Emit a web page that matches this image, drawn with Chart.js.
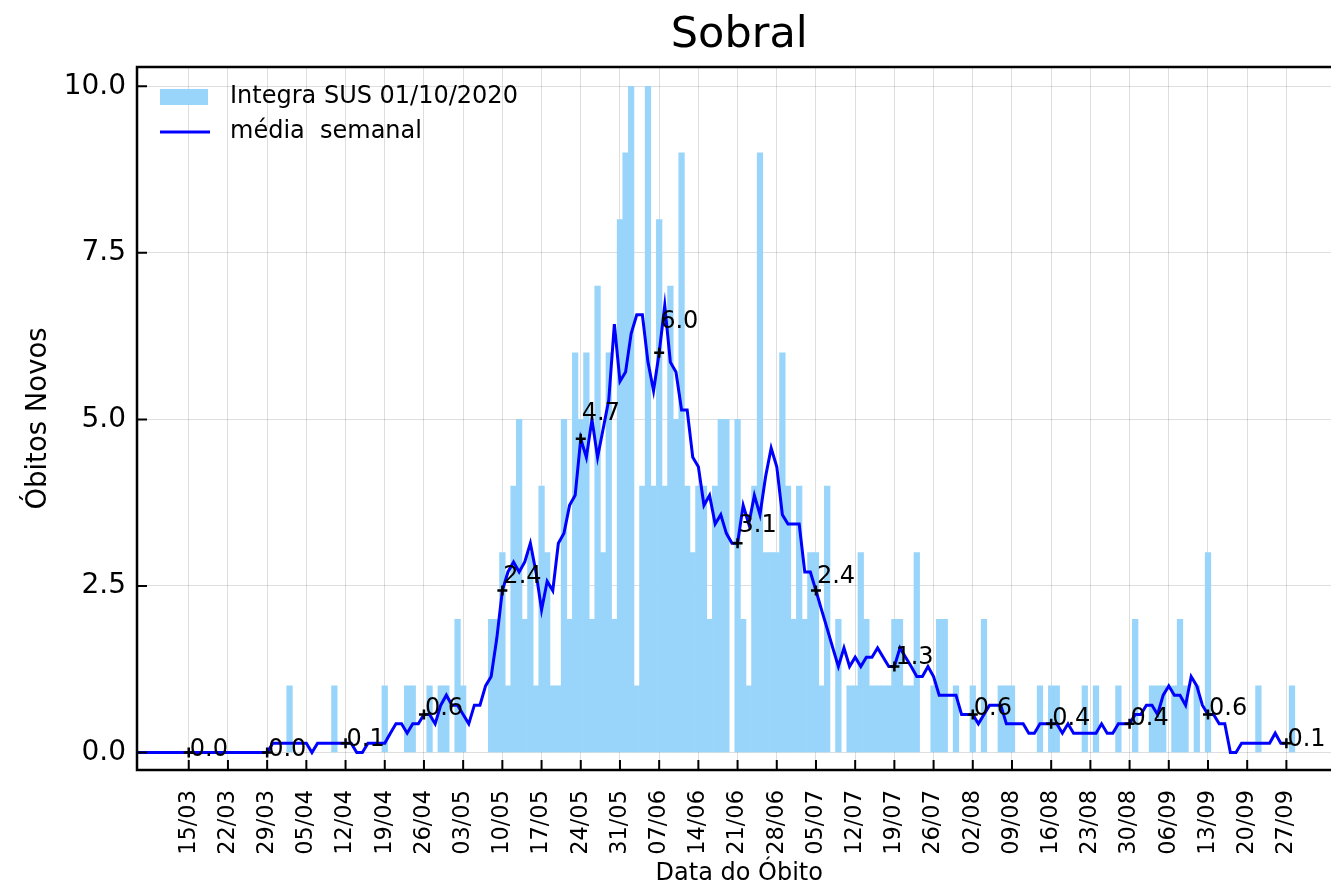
<!DOCTYPE html>
<html>
<head>
<meta charset="utf-8">
<script src="https://cdn.jsdelivr.net/npm/chart.js@4.4.1/dist/chart.umd.min.js"></script>
<style>
  html, body { margin: 0; padding: 0; background: #fff; overflow: hidden; }
  #wrap { width: 1349px; height: 888px; }
</style>
</head>
<body>
<!-- the axes box runs a little past the right edge of the 1331px picture -->
<div id="wrap"><canvas id="sobralChart" width="1349" height="888"></canvas></div>
<script>
// day index 0 = 05/03/2020
const xTickDays = [10, 17, 24, 31, 38, 45, 52, 59, 66, 73, 80, 87, 94, 101, 108,
  115, 122, 129, 136, 143, 150, 157, 164, 171, 178, 185, 192, 199, 206];
const xTickLabels = ['15/03', '22/03', '29/03', '05/04', '12/04', '19/04', '26/04', '03/05',
  '10/05', '17/05', '24/05', '31/05', '07/06', '14/06', '21/06', '28/06', '05/07', '12/07',
  '19/07', '26/07', '02/08', '09/08', '16/08', '23/08', '30/08', '06/09', '13/09', '20/09', '27/09'];
const yTickValues = [0, 2.5, 5, 7.5, 10];
const yTickLabels = ['0.0', '2.5', '5.0', '7.5', '10.0'];

// daily deaths, 05/03 .. 30/09
const dailyDeaths = [
  0, 0, 0, 0, 0, 0, 0, 0, 0, 0,
  0, 0, 0, 0, 0, 0, 0, 0, 0, 0,
  0, 0, 0, 0, 0, 0, 0, 0, 1, 0,
  0, 0, 0, 0, 0, 0, 1, 0, 0, 0,
  0, 0, 0, 0, 0, 1, 0, 0, 0, 1,
  1, 0, 0, 1, 0, 1, 1, 0, 2, 1,
  0, 0, 0, 0, 2, 2, 3, 1, 4, 5,
  2, 3, 1, 4, 3, 1, 1, 5, 2, 6,
  5, 6, 2, 7, 3, 6, 2, 8, 9, 10,
  1, 4, 10, 4, 8, 4, 7, 5, 9, 4,
  3, 4, 4, 2, 4, 5, 5, 0, 5, 2,
  1, 4, 9, 3, 3, 3, 6, 4, 2, 4,
  2, 3, 3, 1, 4, 0, 2, 0, 1, 1,
  3, 2, 1, 1, 1, 1, 2, 2, 1, 1,
  3, 0, 0, 1, 2, 2, 0, 1, 0, 0,
  1, 0, 2, 0, 0, 1, 1, 1, 0, 0,
  0, 0, 1, 0, 1, 1, 0, 0, 0, 0,
  1, 0, 1, 0, 0, 0, 1, 0, 0, 2,
  0, 0, 1, 1, 1, 0, 1, 2, 1, 0,
  1, 0, 3, 0, 0, 0, 0, 0, 0, 0,
  0, 1, 0, 0, 0, 0, 0, 1, 0, 0
];

// weekly average (média semanal), 05/03 .. 27/09
const weeklyMean = [
  0, 0, 0, 0, 0, 0, 0, 0, 0, 0,
  0, 0, 0, 0, 0, 0, 0, 0, 0, 0,
  0, 0, 0, 0, 0, 0.14, 0.14, 0.14, 0.14, 0.14,
  0.14, 0.14, 0, 0.14, 0.14, 0.14, 0.14, 0.14, 0.14, 0.14,
  0, 0, 0.14, 0.14, 0.14, 0.14, 0.29, 0.43, 0.43, 0.29,
  0.43, 0.43, 0.57, 0.57, 0.43, 0.71, 0.86, 0.71, 0.71, 0.57,
  0.43, 0.71, 0.71, 1.0, 1.14, 1.71, 2.43, 2.71, 2.86, 2.71,
  2.86, 3.14, 2.71, 2.14, 2.57, 2.43, 3.14, 3.29, 3.71, 3.86,
  4.71, 4.43, 5.0, 4.43, 4.86, 5.29, 6.43, 5.57, 5.71, 6.29,
  6.57, 6.57, 5.86, 5.43, 6.0, 6.71, 5.86, 5.71, 5.14, 5.14,
  4.43, 4.29, 3.71, 3.86, 3.43, 3.57, 3.29, 3.14, 3.14, 3.71,
  3.43, 3.86, 3.57, 4.14, 4.57, 4.29, 3.57, 3.43, 3.43, 3.43,
  2.71, 2.71, 2.43, 2.14, 1.86, 1.57, 1.29, 1.57, 1.29, 1.43,
  1.29, 1.43, 1.43, 1.57, 1.43, 1.29, 1.29, 1.57, 1.43, 1.29,
  1.14, 1.14, 1.29, 1.14, 0.86, 0.86, 0.86, 0.86, 0.57, 0.57,
  0.57, 0.43, 0.57, 0.71, 0.71, 0.71, 0.43, 0.43, 0.43, 0.43,
  0.29, 0.29, 0.43, 0.43, 0.43, 0.43, 0.29, 0.43, 0.29, 0.29,
  0.29, 0.29, 0.29, 0.43, 0.29, 0.29, 0.43, 0.43, 0.43, 0.57,
  0.57, 0.71, 0.71, 0.57, 0.86, 1.0, 0.86, 0.86, 0.71, 1.14,
  1.0, 0.71, 0.57, 0.57, 0.43, 0.43, 0, 0, 0.14, 0.14,
  0.14, 0.14, 0.14, 0.14, 0.29, 0.14, 0.14
];

// marked points every two weeks
const markerDays = [10, 24, 38, 52, 66, 80, 94, 108, 122, 136, 150, 164, 178, 192, 206];
const markerValues = [0, 0, 0.14, 0.57, 2.43, 4.71, 6.0, 3.14, 2.43, 1.29, 0.57, 0.43, 0.43, 0.57, 0.14];
const markerLabels = ['0.0', '0.0', '0.1', '0.6', '2.4', '4.7', '6.0', '3.1', '2.4', '1.3', '0.6', '0.4', '0.4', '0.6', '0.1'];

const barColor = '#99d5fa';
const lineColor = '#0000ff';

// frame, inward ticks, marker values and legend
const frameAndNotes = {
  id: 'frameAndNotes',
  afterDraw(chart) {
    const { ctx, chartArea: a, scales: { x, y } } = chart;
    ctx.save();
    ctx.strokeStyle = '#000';
    ctx.lineWidth = 2;
    ctx.beginPath();
    x.ticks.forEach(t => {
      const px = x.getPixelForValue(t.value);
      ctx.moveTo(px, a.bottom);
      ctx.lineTo(px, a.bottom - 10);
    });
    y.ticks.forEach(t => {
      const py = y.getPixelForValue(t.value);
      ctx.moveTo(a.left, py);
      ctx.lineTo(a.left + 10, py);
    });
    ctx.stroke();
    ctx.lineWidth = 2.5;
    ctx.strokeRect(a.left, a.top, a.right - a.left, a.bottom - a.top);

    const meta = chart.getDatasetMeta(0);
    ctx.font = '24px "DejaVu Sans"';
    ctx.fillStyle = '#000';
    ctx.textAlign = 'left';
    ctx.textBaseline = 'middle';
    markerLabels.forEach((txt, i) => {
      const pt = meta.data[i];
      ctx.fillText(txt, pt.x + 1, y.getPixelForValue(markerValues[i] * 1.07) - 3);
    });

    // legend
    const lx = a.left + 23;
    ctx.font = '24px "DejaVu Sans"';
    ctx.fillStyle = barColor;
    ctx.fillRect(lx, a.top + 22, 48, 16);
    ctx.fillStyle = '#000';
    ctx.fillText(chart.data.datasets[2].label, lx + 70, a.top + 30);
    ctx.strokeStyle = lineColor;
    ctx.lineWidth = 3;
    ctx.beginPath();
    ctx.moveTo(lx, a.top + 65);
    ctx.lineTo(lx + 50, a.top + 65);
    ctx.stroke();
    ctx.fillText(chart.data.datasets[1].label, lx + 70, a.top + 65);
    ctx.restore();
  }
};

const gridColor = 'rgba(0,0,0,0.13)';

new Chart(document.getElementById('sobralChart'), {
  type: 'bar',
  data: {
    datasets: [
      {
        type: 'scatter',
        label: 'marcas',
        data: markerDays.map((d, i) => ({ x: d, y: markerValues[i] })),
        pointStyle: 'cross',
        pointRadius: 5,
        borderColor: '#000',
        borderWidth: 2.5,
        order: 0
      },
      {
        type: 'line',
        label: 'média  semanal',
        data: weeklyMean.map((v, i) => ({ x: i, y: v })),
        borderColor: lineColor,
        borderWidth: 3,
        pointRadius: 0,
        tension: 0,
        order: 1
      },
      {
        type: 'bar',
        label: 'Integra SUS 01/10/2020',
        data: dailyDeaths.map((v, i) => ({ x: i, y: v === 0 ? null : v })),
        backgroundColor: barColor,
        borderWidth: 0,
        barPercentage: 1,
        categoryPercentage: 1,
        order: 2
      }
    ]
  },
  options: {
    responsive: false,
    animation: false,
    devicePixelRatio: 1,
    layout: { padding: 0 },
    font: { family: '"DejaVu Sans"' },
    plugins: {
      legend: { display: false },
      tooltip: { enabled: false },
      title: {
        display: true,
        text: 'Sobral',
        color: '#000',
        fullSize: false,
        font: { family: '"DejaVu Sans"', size: 43, weight: 'normal' },
        padding: { top: 10, bottom: 5.4 }
      }
    },
    scales: {
      x: {
        type: 'linear',
        min: 0.76,
        max: 215.84,
        offset: false,
        z: 1,
        grid: { color: gridColor, lineWidth: 1, drawTicks: false, offset: false },
        border: { display: false },
        afterBuildTicks: s => { s.ticks = xTickDays.map(v => ({ value: v })); },
        afterFit: s => { s.height = 118; s.paddingLeft = 0; s.paddingRight = 0; },
        ticks: {
          autoSkip: false,
          minRotation: 90,
          maxRotation: 90,
          padding: 20,
          color: '#000',
          font: { family: '"DejaVu Sans"', size: 22.5 },
          callback: (v, i) => xTickLabels[i]
        },
        title: {
          display: true,
          text: 'Data do Óbito',
          color: '#000',
          font: { family: '"DejaVu Sans"', size: 24 },
          padding: { top: 0, bottom: 0 }
        }
      },
      y: {
        min: -0.263,
        max: 10.29,
        z: 1,
        grid: { color: gridColor, lineWidth: 1, drawTicks: false },
        border: { display: false },
        afterBuildTicks: s => { s.ticks = yTickValues.map(v => ({ value: v })); },
        afterFit: s => { s.width = 137; },
        ticks: {
          padding: 11,
          color: '#000',
          font: { family: '"DejaVu Sans"', size: 28 },
          callback: (v, i) => yTickLabels[i]
        },
        title: {
          display: true,
          text: 'Óbitos Novos',
          color: '#000',
          font: { family: '"DejaVu Sans"', size: 27.5 },
          padding: { top: 22, bottom: 0 }
        }
      }
    }
  },
  plugins: [frameAndNotes]
});
</script>
</body>
</html>
